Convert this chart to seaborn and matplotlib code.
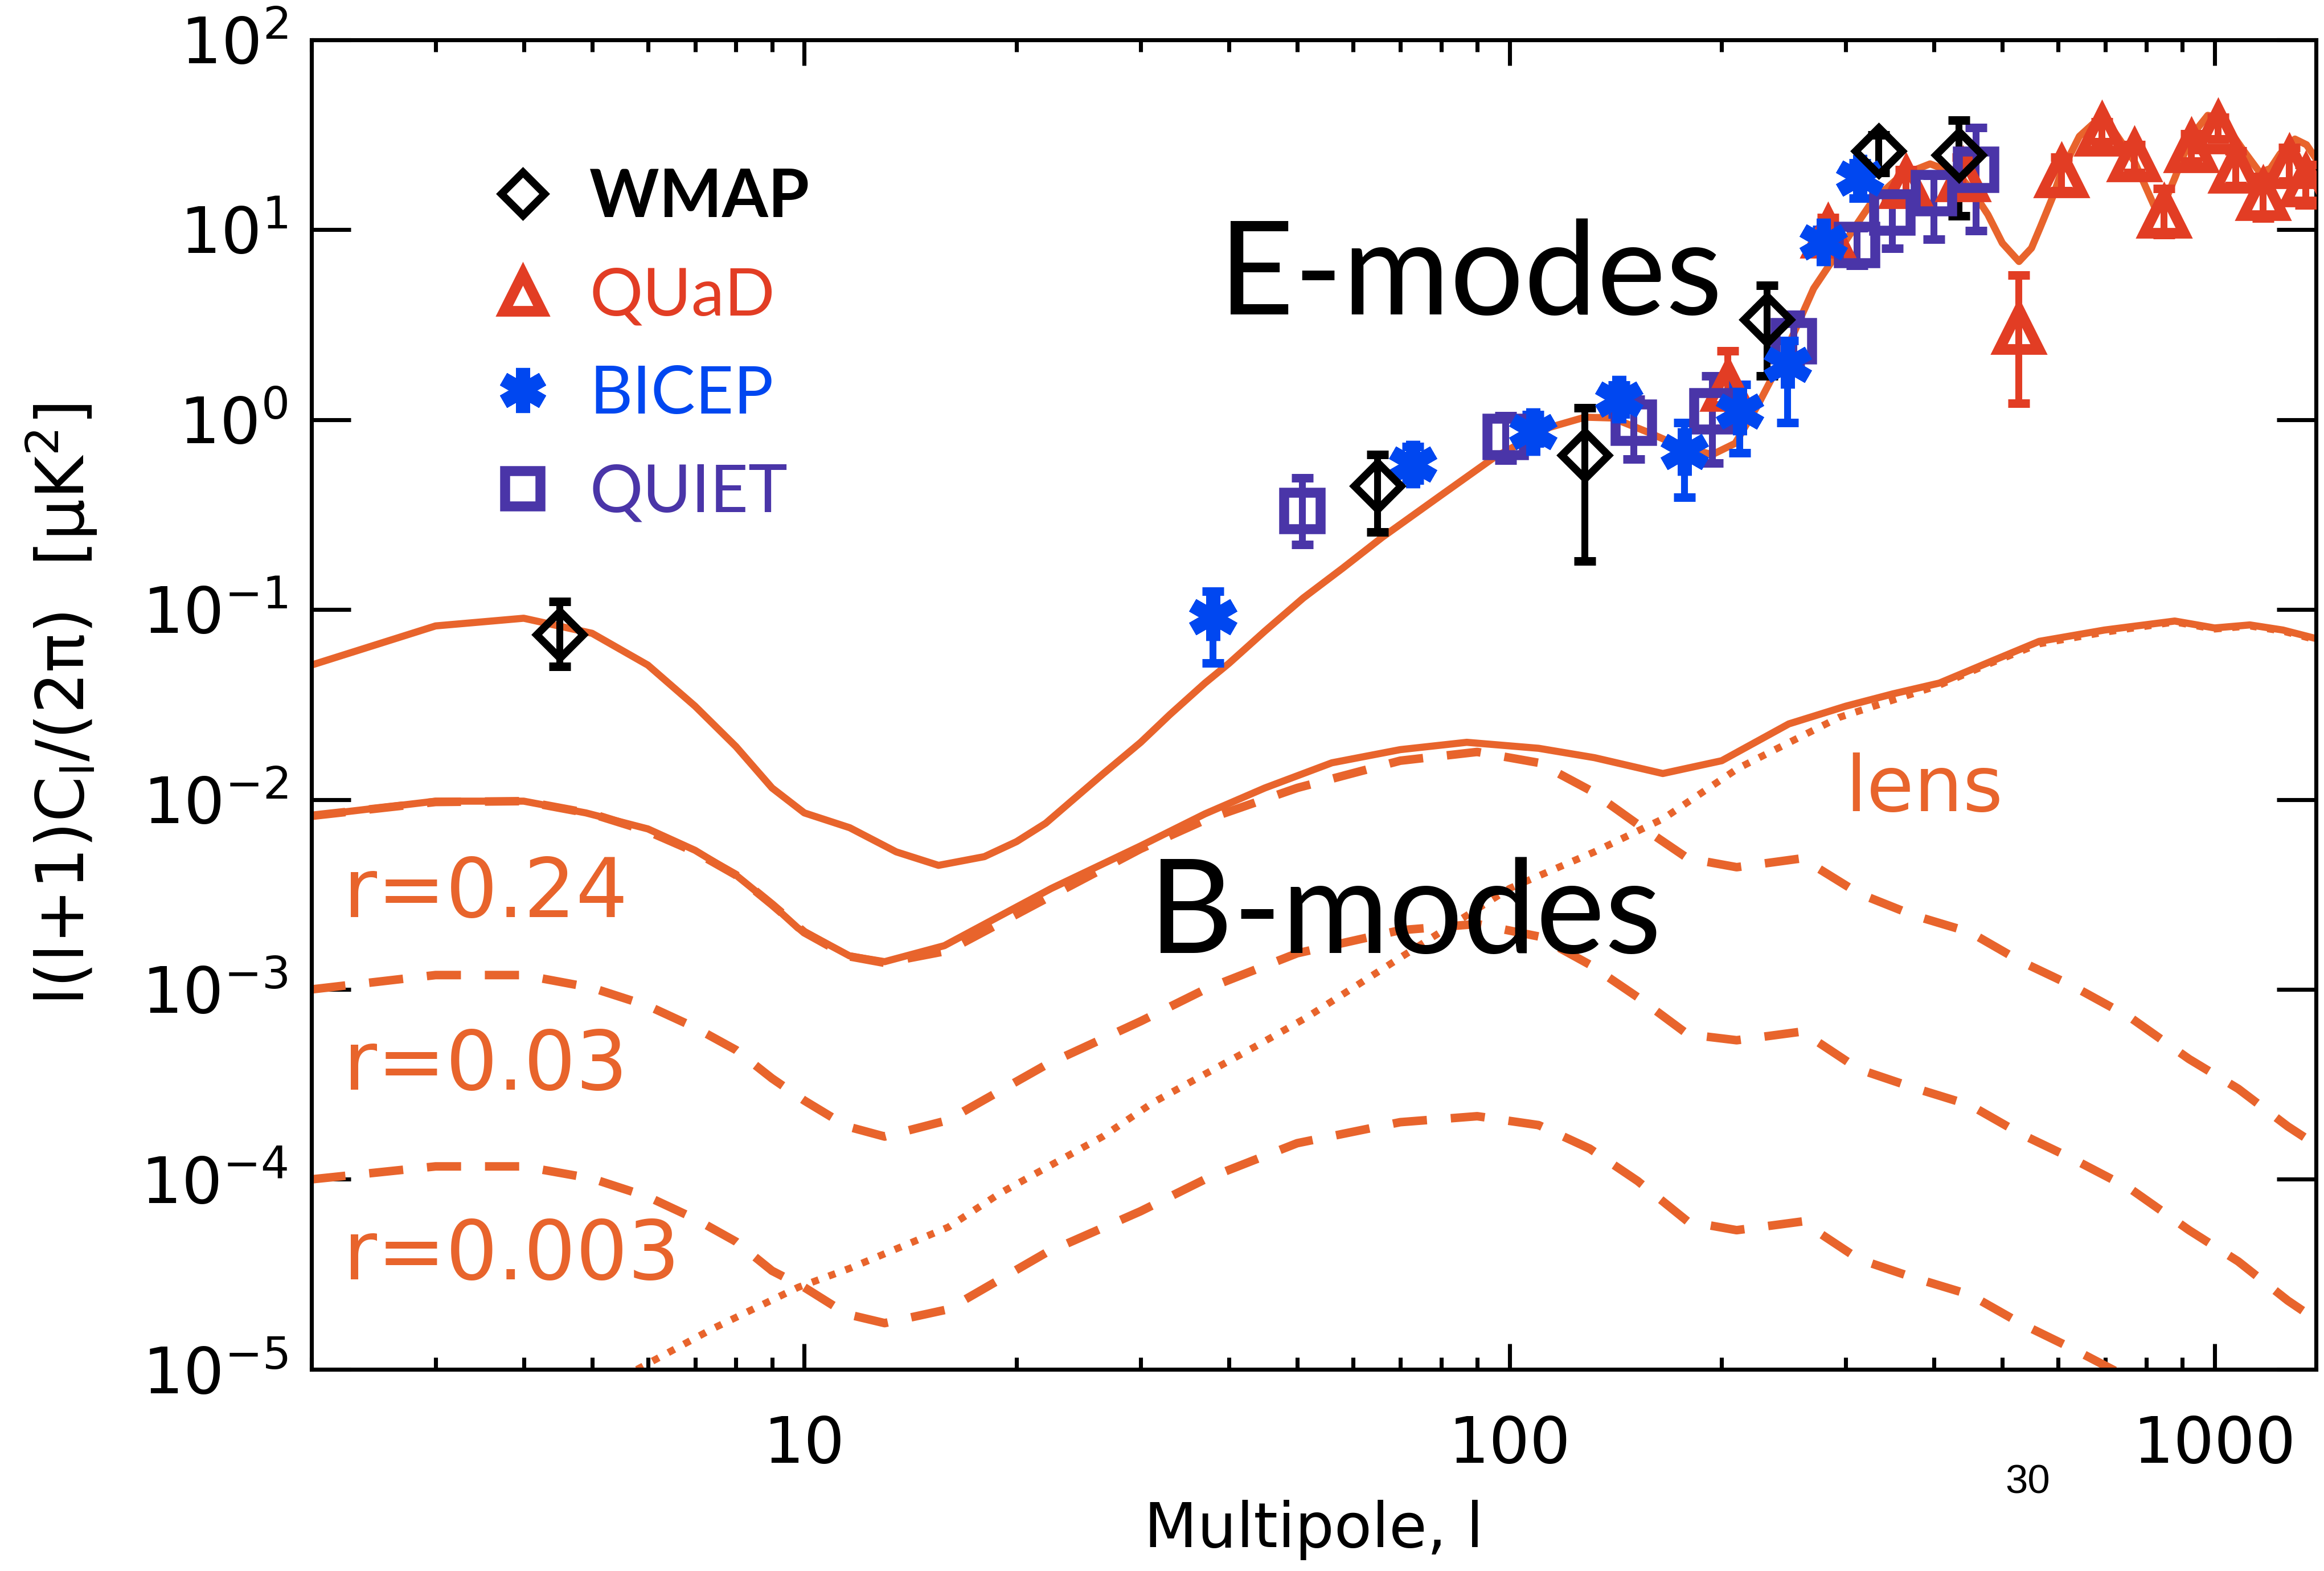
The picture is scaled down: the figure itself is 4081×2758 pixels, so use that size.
import numpy as np
import pandas as pd
import matplotlib
matplotlib.use("Agg")
import matplotlib.pyplot as plt
import matplotlib.ticker as mticker
from matplotlib.lines import Line2D
import seaborn as sns

# ---- theory curves ----
ell_E = [2, 3, 4, 5, 6, 7, 8, 9, 10, 11.6, 13.5, 15.5, 18, 20, 22, 26.5, 30, 33, 37, 40, 45,
         51, 58, 66, 80, 95, 114, 128, 140, 157, 175, 194, 209, 225, 246, 270, 297, 327, 359,
         395, 434, 456, 477, 500, 528, 550, 566, 590, 606, 643, 672, 700, 720, 769, 822, 850,
         879, 926, 978, 1010, 1052, 1100, 1159, 1200, 1238, 1300, 1350, 1400]
EE = [0.051, 0.082, 0.090, 0.075, 0.051, 0.031, 0.019, 0.0115, 0.0085, 0.0071, 0.0053, 0.0045,
      0.0050, 0.0060, 0.0075, 0.0136, 0.020, 0.028, 0.041, 0.052, 0.077, 0.115, 0.165, 0.24,
      0.40, 0.63, 0.91, 1.03, 1.02, 0.86, 0.72, 0.655, 0.75, 1.19, 2.25, 4.9, 8.3, 14.1, 19.3,
      22.2, 19.5, 15.5, 12.0, 8.5, 6.8, 8.0, 10.3, 15.0, 20.0, 31.0, 36.0, 36.5, 33.0, 23.0,
      13.2, 14.0, 18.9, 31.0, 40.0, 39.0, 33.0, 26.0, 20.0, 21.0, 25.0, 30.0, 28.0, 23.0]

ell_Btot = [2, 3, 4, 4.9, 6, 7, 8, 9, 9.8, 11.6, 13, 15.8, 22.4, 30, 37, 45, 56, 70, 87, 110,
            132, 165, 200, 249, 300, 350, 407, 480, 564, 698, 878, 1000, 1122, 1250, 1400]
BB_tot = [0.0082, 0.0098, 0.0098, 0.0085, 0.0070, 0.0054, 0.0040, 0.0028, 0.0021, 0.0015,
          0.0014, 0.0017, 0.0034, 0.0057, 0.0084, 0.0115, 0.0156, 0.0183, 0.0200, 0.0186,
          0.0166, 0.0137, 0.0160, 0.025, 0.031, 0.036, 0.041, 0.053, 0.068, 0.078, 0.087,
          0.080, 0.083, 0.078, 0.070]

ell_T = [2, 3, 4, 5, 6, 7, 8, 9, 10, 11.5, 13, 16, 22, 30, 37, 50, 70, 90, 110, 130, 152, 179,
         210, 260, 313, 375, 450, 530, 630, 760, 920, 1080, 1270, 1400]
BB_r024 = [0.0082, 0.0097, 0.0098, 0.0084, 0.0068, 0.0053, 0.0040, 0.0028, 0.0020, 0.0015,
           0.00138, 0.0016, 0.0030, 0.0055, 0.0078, 0.0115, 0.0160, 0.0178, 0.0156, 0.0112,
           0.0074, 0.0049, 0.0044, 0.0049, 0.0032, 0.00245, 0.0020, 0.00141, 0.00104,
           0.00071, 0.00043, 0.00030, 0.00019, 0.00015]
BB_r003 = [0.00100, 0.00119, 0.00119, 0.00102, 0.00082, 0.00063, 0.00048, 0.00034, 0.00026,
           0.00019, 0.000168, 0.000205, 0.00040, 0.00068, 0.00100, 0.00155, 0.00205, 0.00221,
           0.0019, 0.00135, 0.00091, 0.00058, 0.00054, 0.00060, 0.00038, 0.000303, 0.000246,
           0.000174, 0.000128, 0.000089, 0.000054, 0.000037, 0.000023, 0.000018]
BB_r0003 = [0.000100, 0.000117, 0.000117, 0.000101, 0.000081, 0.000062, 0.000047, 0.000033,
            0.000027, 0.0000195, 0.0000175, 0.0000207, 0.000041, 0.000068, 0.000100, 0.000155,
            0.000200, 0.000215, 0.000193, 0.000145, 0.000098, 0.000060, 0.000054, 0.000060,
            0.000038, 0.0000303, 0.0000247, 0.0000175, 0.0000128, 0.0000089, 0.0000056,
            0.0000037, 0.0000023, 0.0000018]

ell_lens = [5.5, 7.4, 9.8, 11.6, 16, 19, 26.5, 31.3, 43.6, 51.5, 71.6, 100, 132, 165, 211,
            293, 407, 480, 564, 698, 878, 1000, 1122, 1250, 1400]
BB_lens = [9.0e-6, 1.63e-5, 2.7e-5, 3.4e-5, 5.6e-5, 8.5e-5, 1.68e-4, 2.55e-4, 5.0e-4, 7.1e-4,
           1.55e-3, 3.4e-3, 5.3e-3, 7.9e-3, 0.0146, 0.027, 0.040, 0.052, 0.066, 0.076, 0.086,
           0.079, 0.082, 0.077, 0.069]

# ---- data points: ell, value, lower, upper ----
wmap_l = [4.5, 65, 128, 232, 334, 434]
wmap_v = [0.074, 0.448, 0.65, 3.37, 26.0, 24.8]
wmap_lo = [0.050, 0.256, 0.18, 1.70, 20.0, 11.8]
wmap_hi = [0.110, 0.655, 1.15, 5.1, 31.6, 37.8]

quad_l = [204, 283, 365, 440, 528, 606, 692, 769, 847, 926, 1011, 1072, 1172, 1277, 1348]
quad_v = [1.5, 9.6, 17.5, 19.0, 3.0, 20.0, 33.0, 24.3, 12.2, 27.1, 34.0, 21.1, 15.2, 22.3, 17.9]
quad_lo = [0.9, 8.0, 15.0, 15.0, 1.22, 16.0, 29.0, 20.0, 9.4, 23.0, 30.0, 17.0, 11.5, 18.0, 13.5]
quad_hi = [2.3, 11.6, 20.7, 24.0, 5.75, 24.0, 37.0, 28.0, 16.5, 32.0, 39.0, 26.0, 19.0, 27.0, 22.0]

bicep_l = [38, 73, 108, 143, 177, 212, 248, 279, 314]
bicep_v = [0.0916, 0.582, 0.863, 1.28, 0.68, 1.11, 1.95, 8.6, 18.6]
bicep_lo = [0.0523, 0.48, 0.75, 1.07, 0.39, 0.67, 0.965, 7.5, 14.6]
bicep_hi = [0.125, 0.72, 1.06, 1.52, 0.965, 1.53, 2.6, 10.0, 22.4]

quiet_l = [50.9, 98.7, 150, 194, 253, 311, 349, 400, 459]
quiet_v = [0.331, 0.81, 0.965, 1.11, 2.59, 8.3, 12.3, 15.6, 20.7]
quiet_lo = [0.22, 0.61, 0.62, 0.59, 1.95, 6.5, 8.0, 8.9, 9.9]
quiet_hi = [0.493, 1.05, 1.28, 1.7, 3.57, 10.2, 15.0, 19.3, 34.5]

x_ticks = [10, 100, 1000]
y_ticks = [1e-5, 1e-4, 1e-3, 1e-2, 1e-1, 1e0, 1e1, 1e2]

ORANGE = "#E8642C"
RED = "#E23D24"
BLUE = "#0047F0"
PURPLE = "#4A35A8"

sns.set_theme(style="ticks")
plt.rcParams["font.family"] = ["DejaVu Sans"]
plt.rcParams["mathtext.fontset"] = "dejavusans"
plt.rcParams["mathtext.default"] = "regular"
plt.rcParams["text.color"] = "black"
plt.rcParams["axes.labelcolor"] = "black"
plt.rcParams["xtick.color"] = "black"
plt.rcParams["ytick.color"] = "black"

fig = plt.figure(figsize=(4081 / 300, 2758 / 300), dpi=300)
ax = fig.add_axes([0.134, 0.1284, 0.8626, 0.8463])

dash = (0, (4, 2.8))
sns.lineplot(x=ell_E, y=EE, ax=ax, color=ORANGE, lw=3.0, estimator=None, sort=False)
sns.lineplot(x=ell_Btot, y=BB_tot, ax=ax, color=ORANGE, lw=3.0, estimator=None, sort=False)
for vals in (BB_r024, BB_r003, BB_r0003):
    sns.lineplot(x=ell_T, y=vals, ax=ax, color=ORANGE, lw=3.6, linestyle=dash,
                 estimator=None, sort=False)
sns.lineplot(x=ell_lens, y=BB_lens, ax=ax, color=ORANGE, lw=3.0, linestyle=(0, (1, 1.5)),
             estimator=None, sort=False)


def points(l, v, lo, hi, marker, color, ms, mew):
    v = np.array(v)
    err = [v - np.array(lo), np.array(hi) - v]
    ax.errorbar(l, v, yerr=err, fmt="none", ecolor=color, elinewidth=2.9, capsize=4.5,
                capthick=3.6, zorder=5)
    ax.plot(l, v, ls="none", marker=marker, mfc="none", mec=color, ms=ms, mew=mew, zorder=6)


points(quad_l, quad_v, quad_lo, quad_hi, "^", RED, 17, 4.5)
points(quiet_l, quiet_v, quiet_lo, quiet_hi, "s", PURPLE, 15.5, 4.2)
points(bicep_l, bicep_v, bicep_lo, bicep_hi, (6, 2, 0), BLUE, 20, 6.0)
points(wmap_l, wmap_v, wmap_lo, wmap_hi, "D", "black", 14, 3.2)

ax.set_xscale("log")
ax.set_yscale("log")
ax.set_xlim(2, 1393)
ax.set_ylim(1e-5, 1e2)

ax.set_xticks(x_ticks)
ax.xaxis.set_major_formatter(mticker.FuncFormatter(lambda v, p: f"{v:g}"))
ax.xaxis.set_minor_formatter(mticker.NullFormatter())
ax.set_yticks(y_ticks)
ax.yaxis.set_major_formatter(mticker.LogFormatterSciNotation())
ax.yaxis.set_minor_locator(mticker.NullLocator())

ax.tick_params(which="both", direction="in", top=True, right=True, width=1.7, color="black",
               labelcolor="black")
ax.tick_params(axis="x", which="major", length=10.8, labelsize=27, pad=19)
ax.tick_params(axis="x", which="minor", length=5)
ax.tick_params(axis="y", which="major", length=16.5, labelsize=27, pad=10)
for s in ax.spines.values():
    s.set_linewidth(1.7)
    s.set_color("black")

ax.set_xlabel("Multipole, l", fontsize=26, color="black")
ax.xaxis.set_label_coords(0.5, -0.098)
ax.set_ylabel("l(l+1)C$_l$/(2π)  [μK$^2$]", fontsize=27.5, color="black")
ax.yaxis.set_label_coords(-0.106, 0.5)

ax.text(0.4526, 0.7935, "E-modes", transform=ax.transAxes, fontsize=55, color="black",
        va="baseline", family="Lato")
ax.text(0.4176, 0.3132, "B-modes", transform=ax.transAxes, fontsize=55, color="black",
        va="baseline", family="Lato")
ax.text(0.765, 0.42, "lens", transform=ax.transAxes, fontsize=32.5, color=ORANGE,
        va="baseline")
for ypos, lab in [(0.340, "r=0.24"), (0.2104, "r=0.03"), (0.0677, "r=0.003")]:
    ax.text(0.0159, ypos, lab, transform=ax.transAxes, fontsize=34.5, color=ORANGE,
            va="baseline")

handles = [
    Line2D([], [], ls="none", marker="D", mfc="none", mec="black", ms=13, mew=3.2),
    Line2D([], [], ls="none", marker="^", mfc="none", mec=RED, ms=16, mew=4.5),
    Line2D([], [], ls="none", marker=(6, 2, 0), mfc="none", mec=BLUE, ms=19, mew=6.0),
    Line2D([], [], ls="none", marker="s", mfc="none", mec=PURPLE, ms=15, mew=4.2),
]
leg = ax.legend(handles, ["WMAP", "QUaD", "BICEP", "QUIET"], loc="upper left",
                bbox_to_anchor=(0.089, 0.904), frameon=False,
                prop={"family": "Lato", "size": 28},
                handlelength=1.0, handletextpad=0.5, labelspacing=0.58,
                borderaxespad=0, borderpad=0, labelcolor="markeredgecolor")
leg.get_texts()[0].set_fontweight("bold")

fig.text(0.8726, 0.0562, "30", fontsize=17, family="Liberation Sans", ha="center",
         va="center", color="black")

fig.savefig("out.png", dpi=300)
